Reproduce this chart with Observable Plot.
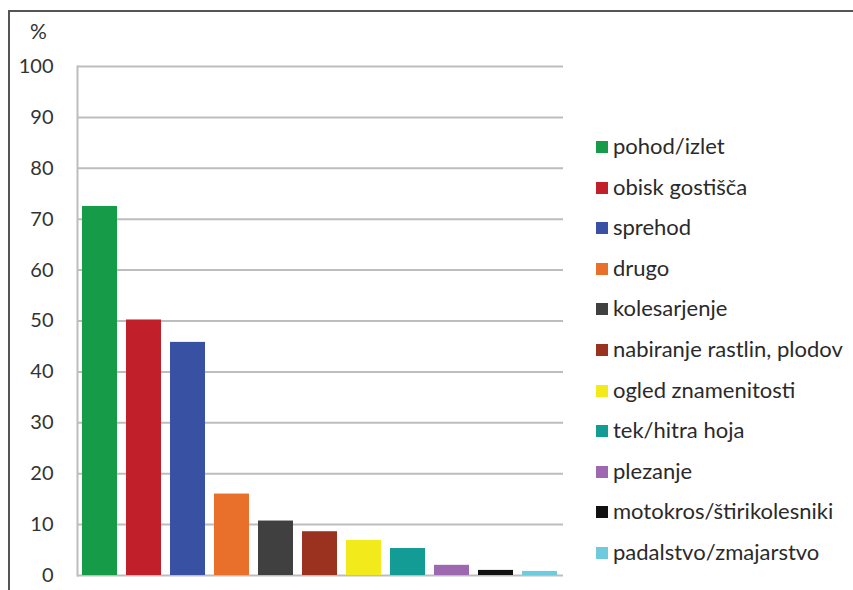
<!DOCTYPE html>
<html>
<head>
<meta charset="utf-8">
<script src="https://cdn.jsdelivr.net/npm/d3@7"></script>
<script src="https://cdn.jsdelivr.net/npm/@observablehq/plot@0.6"></script>
<style>
  html, body { margin: 0; padding: 0; background: #fff; }
  body { width: 853px; height: 590px; position: relative; overflow: hidden; font-family: Lato, "Open Sans", sans-serif; }
  #frame { position: absolute; left: 8px; top: 10px; right: 0; bottom: 0; border-top: 2px solid #555; border-left: 2px solid #555; pointer-events: none; }
  #chart { position: absolute; left: 0; top: 0; }
  #unit { position: absolute; left: 30px; top: 18px; font-size: 21px; color: #333; }
  #legend { position: absolute; left: 596px; top: 133px; }
  .item { height: 40.6px; display: flex; align-items: flex-start; font-size: 22px; color: #2a2a2a; line-height: 26px; }
  .sw { width: 12px; height: 12px; margin-right: 5px; margin-top: 8px; flex: none; }
</style>
</head>
<body>
<div id="chart"></div>
<div id="frame"></div>
<div id="unit">%</div>
<div id="legend"></div>
<script>
const categories = ["pohod/izlet", "obisk gostišča", "sprehod", "drugo", "kolesarjenje", "nabiranje rastlin, plodov", "ogled znamenitosti", "tek/hitra hoja", "plezanje", "motokros/štirikolesniki", "padalstvo/zmajarstvo"];
const values = [72.5, 50.2, 45.8, 16.0, 10.7, 8.6, 6.9, 5.3, 2.0, 1.0, 0.8];
const colors = ["#169b48", "#c1202a", "#3851a3", "#e8702a", "#404040", "#9b3220", "#f2ea1a", "#139b96", "#9e68b0", "#111111", "#6dcbdd"];
const yTicks = [0, 10, 20, 30, 40, 50, 60, 70, 80, 90, 100];

const data = categories.map((c, i) => ({category: c, value: values[i]}));

const plot = Plot.plot({
  width: 853,
  height: 590,
  marginLeft: 77,
  marginRight: 290,
  marginTop: 66,
  marginBottom: 15,
  style: {fontFamily: "Lato, 'Open Sans', sans-serif", fontSize: "20px", color: "#333", background: "transparent"},
  x: {domain: categories, padding: 0.2, paddingOuter: 0.1, axis: null},
  y: {domain: [0, 100], ticks: yTicks, label: null},
  color: {domain: categories, range: colors},
  marks: [
    Plot.ruleY(yTicks, {stroke: "#bdbdbd", strokeWidth: 2}),
    Plot.frame({anchor: "left", stroke: "#bdbdbd", strokeWidth: 2}),
    Plot.axisY({ticks: yTicks, tickSize: 0, tickPadding: 24, label: null, fill: "#333"}),
    Plot.barY(data, {x: "category", y: "value", fill: "category"})
  ]
});
document.getElementById("chart").appendChild(plot);

const legend = document.getElementById("legend");
categories.forEach((c, i) => {
  const item = document.createElement("div");
  item.className = "item";
  const sw = document.createElement("div");
  sw.className = "sw";
  sw.style.background = colors[i];
  const label = document.createElement("span");
  label.textContent = c;
  item.appendChild(sw);
  item.appendChild(label);
  legend.appendChild(item);
});
</script>
</body>
</html>
